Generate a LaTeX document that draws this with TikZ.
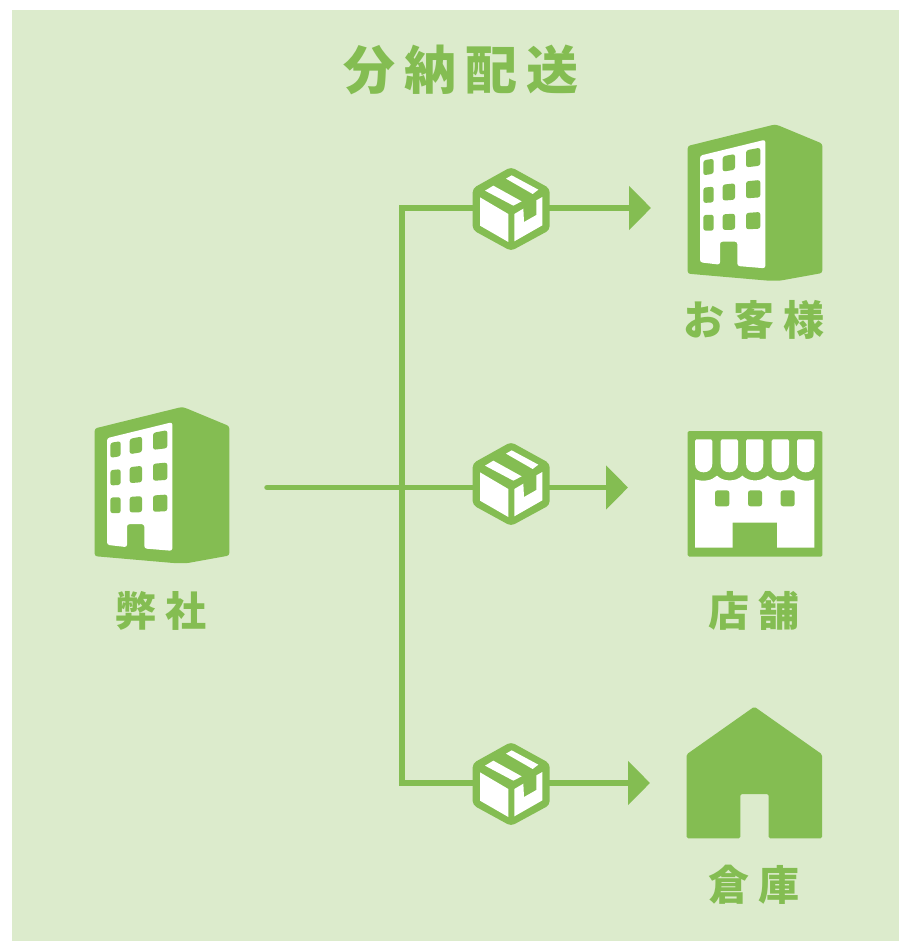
\documentclass[tikz,border=0pt]{standalone}
\usepackage{fontspec}
\usetikzlibrary{arrows.meta}
\newfontfamily\cjktitle[LetterSpace=17]{Noto Sans CJK JP Black}
\newfontfamily\cjklabel[LetterSpace=22]{Noto Sans CJK JP Black}
\definecolor{leaf}{HTML}{84BD52}
\definecolor{paper}{HTML}{DCEBCC}
\tikzset{
  x=1pt,y=-1pt,
  leaffill/.style={fill=leaf,draw=none},
  whitefill/.style={fill=white,draw=none},
  flow/.style={draw=leaf,line width=5.5pt},
  tipped/.style={flow,-{Triangle[length=22pt,width=43pt]}},
  titletext/.style={text=leaf,inner sep=0pt,font=\cjktitle\fontsize{52}{52}\selectfont},
  labeltext/.style={text=leaf,inner sep=0pt,font=\cjklabel\fontsize{41}{41}\selectfont},
  win/.style={leaffill,rounded corners=2.5pt},
  building/.pic={
    \begin{scope}[x=.33333pt,y=-.33333pt]
      \path[leaffill,rounded corners=2.5pt] (53,93)--(312,29)--(322,30)--(457,86)--(457,474)--(330,497)--(295,497)--(53,476)--cycle;
      \path[whitefill,rounded corners=2.5pt] (90,122)--(286,74)--(286,460)--(202,453)--(202,380)--(150,380)--(150,449)--(90,442)--cycle;
      \path[win] (100,136)--(131,131)--(131,176)--(100,181)--cycle;
      \path[win] (158,124)--(195,117)--(195,164)--(158,170)--cycle;
      \path[win] (228,106)--(271,98)--(271,152)--(228,157)--cycle;
      \path[win] (100,218)--(131,215)--(131,262)--(100,264)--cycle;
      \path[win] (158,209)--(195,205)--(195,254)--(158,257)--cycle;
      \path[win] (228,199)--(271,195)--(271,247)--(228,250)--cycle;
      \path[win] (100,300)--(131,299)--(131,347)--(100,347)--cycle;
      \path[win] (158,298)--(195,296)--(195,344)--(158,345)--cycle;
      \path[win] (228,294)--(271,291)--(271,341)--(228,343)--cycle;
    \end{scope}
  },
  parcel/.pic={
    \begin{scope}[x=.33333pt,y=-.33333pt,shift={(-153,-160)}]
      \path[leaffill,rounded corners=4pt] (153,37)--(269,101)--(269,226)--(153,289)--(38,226)--(38,101)--cycle;
      \path[whitefill] (60,128)--(145,178)--(145,262)--(60,213)--cycle;
      \path[whitefill] (163,178)--(190,162)--(192,202)--(229,181)--(229,137)--(247,127)--(247,212)--(163,260)--cycle;
      \path[whitefill] (75,108)--(100,93)--(185,140)--(160,153)--cycle;
      \path[whitefill] (138,72)--(155,62)--(235,105)--(218,118)--cycle;
    \end{scope}
  },
  shop/.pic={
    \begin{scope}[x=.33333pt,y=-.33333pt]
      \path[leaffill,rounded corners=1.5pt] (38,33) rectangle (442,410);
      \foreach \ox in {60,137,213,290,366}{
        \path[whitefill] (\ox+4,58)--(\ox+48,58)
          .. controls (\ox+51,58) and (\ox+52,60) .. (\ox+52,63)
          --(\ox+52,131) .. controls (\ox+52,148) and (\ox+40,157) .. (\ox+26,157)
          .. controls (\ox+12,157) and (\ox+0,148) .. (\ox+0,131)
          --(\ox+0,63) .. controls (\ox+0,60) and (\ox+1,58) .. (\ox+4,58)--cycle;
      }
      \path[whitefill] (60,178) .. controls (85,186) and (110,182) .. (126,167)
        .. controls (145,186) and (183,186) .. (202,167)
        .. controls (221,186) and (259,186) .. (278,167)
        .. controls (297,186) and (335,186) .. (355,167)
        .. controls (370,182) and (395,186) .. (418,178)
        --(418,383)--(306,383)--(306,308)--(173,308)--(173,383)--(60,383)--cycle;
      \path[win] (120,211) rectangle (163,259);
      \path[win] (219,211) rectangle (261,259);
      \path[win] (317,211) rectangle (359,259);
    \end{scope}
  },
  warehouse/.pic={
    \begin{scope}[x=.33333pt,y=-.33333pt]
      \path[leaffill,rounded corners=1.5pt] (238,35)--(441,178)--(441,430)--(281,430)--(281,297)--(196,297)--(196,430)--(35,430)--(35,178)--cycle;
    \end{scope}
  }
}
\begin{document}
\begin{tikzpicture}
\useasboundingbox (0,0) rectangle (899,941);
\fill[paper] (12,10) rectangle (899,941);
\node[titletext] (title) at (461,70) {分納配送};

\coordinate (src) at (267,487.5);
\coordinate (hub) at (402,487.5);
\coordinate (cornerA) at (402,208);
\coordinate (cornerC) at (402,783);
\coordinate (boxA) at (511,208);
\coordinate (boxB) at (511,483);
\coordinate (boxC) at (511,783);
\coordinate (endA) at (651,208);
\coordinate (endB) at (628,487.5);
\coordinate (endC) at (650,783);

\draw[flow,line cap=round] (src) -- (hub);
\draw[flow,line join=miter] (boxA) -- (cornerA) -- (cornerC) -- (boxC);
\draw[flow] (hub) -- (boxB |- hub);
\draw[tipped] (boxA) -- (endA);
\draw[tipped] (boxB |- hub) -- (endB);
\draw[tipped] (boxC) -- (endC);

\pic at (boxA) {parcel};
\pic at (boxB) {parcel};
\pic at (boxC) {parcel};

\pic at (670,115) {building};
\pic at (77,397.5) {building};
\pic at (675,420) {shop};
\pic at (675,695) {warehouse};

\node[labeltext] (lblCustomer) at (754,320) {お客様};
\node[labeltext] (lblShop) at (754,611) {店舗};
\node[labeltext] (lblStock) at (754,885) {倉庫};
\node[labeltext] (lblOwn) at (161,611) {弊社};
\end{tikzpicture}
\end{document}
